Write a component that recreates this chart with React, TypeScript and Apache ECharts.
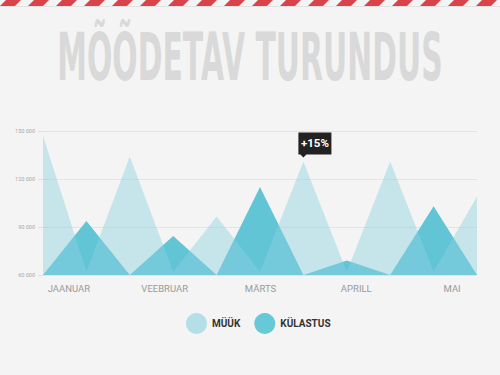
import React, { useEffect, useRef } from "react";
import * as echarts from "echarts";

const PERIODS = ["1", "2", "3", "4", "5", "6", "7", "8", "9", "10", "11"];
const MUUK = [147000, 62000, 134000, 62000, 96500, 62000, 131000, 62000, 131000, 62000, 109000];
const KULASTUS = [60000, 93800, 60000, 84400, 60000, 115000, 60000, 69000, 60000, 103000, 60000];
const MONTHS = ["JAANUAR", "VEEBRUAR", "MÄRTS", "APRILL", "MAI"];
const Y_TICKS = [60000, 90000, 120000, 150000];
const SERIES_NAMES = ["MÜÜK", "KÜLASTUS"];
const TITLE = "MÕÕDETAV TURUNDUS";
const HIGHLIGHT_INDEX = 6;
const HIGHLIGHT_LABEL = "+15%";

const FONT = "Roboto, 'Liberation Sans', sans-serif";

function fmt(v: number) {
  return String(v).replace(/\B(?=(\d{3})+(?!\d))/g, " ");
}

export default function App() {
  const ref = useRef<HTMLDivElement>(null);
  useEffect(() => {
    if (!ref.current) return;
    const chart = echarts.init(ref.current, null, { renderer: "svg" });

    const stripes: any[] = [];
    for (let i = -1; i < 20; i++) {
      const x0 = i * 28;
      stripes.push({
        type: "polygon",
        shape: { points: [[x0 + 6, 0], [x0 + 21, 0], [x0 + 15, 6], [x0, 6]] },
        style: { fill: "#d8434c" },
        silent: true,
      });
    }

    chart.setOption({
      animation: false,
      backgroundColor: "#f4f4f4",
      graphic: [
        { type: "rect", shape: { x: 0, y: 6, width: 500, height: 1 }, style: { fill: "#e2e2e2" }, silent: true },
        ...stripes,
        {
          type: "text",
          x: 250,
          y: 58,
          scaleX: 0.574,
          scaleY: 1.25,
          style: {
            text: TITLE,
            fill: "#d9d9d9",
            font: "bold 52px 'DejaVu Sans', sans-serif",
            textAlign: "center",
            textVerticalAlign: "middle",
          },
          silent: true,
        },
      ],
      legend: {
        left: 181,
        top: 308,
        icon: "circle",
        itemWidth: 21,
        itemHeight: 21,
        itemGap: 14,
        data: [
          { name: SERIES_NAMES[0], itemStyle: { color: "#b5dfe6" } },
          { name: SERIES_NAMES[1], itemStyle: { color: "#67c8d7" } },
        ],
        textStyle: { fontFamily: FONT, fontWeight: "bold", fontSize: 10, color: "#333" },
      },
      grid: [
        { left: 43, right: 23, top: 131, bottom: 100 },
        { left: 21, width: 490, top: 131, bottom: 100 },
      ],
      xAxis: [
        { type: "category", gridIndex: 0, data: PERIODS, boundaryGap: false, show: false },
        {
          type: "category",
          gridIndex: 1,
          data: MONTHS,
          boundaryGap: true,
          axisLine: { show: false },
          axisTick: { show: false },
          axisLabel: { color: "#9a9a9a", fontFamily: FONT, fontSize: 9.5, margin: 8 },
        },
      ],
      yAxis: [
        {
          type: "value",
          gridIndex: 0,
          min: Y_TICKS[0],
          max: Y_TICKS[Y_TICKS.length - 1],
          interval: Y_TICKS[1] - Y_TICKS[0],
          axisLine: { show: false },
          axisTick: { show: true, length: 5, lineStyle: { color: "#e0e0e0" } },
          axisLabel: { color: "#a8a8a8", fontFamily: FONT, fontSize: 5.5, margin: 8, formatter: (v: number) => fmt(v) },
          splitLine: { lineStyle: { color: "#e3e3e3", width: 1 } },
        },
        { type: "value", gridIndex: 1, show: false },
      ],
      series: [
        {
          name: SERIES_NAMES[0],
          type: "line",
          xAxisIndex: 0,
          yAxisIndex: 0,
          z: 3,
          data: MUUK,
          symbol: "none",
          lineStyle: { width: 0 },
          itemStyle: { color: "#b5dfe6" },
          areaStyle: { color: "rgba(140,210,222,0.63)", origin: "start" },
          markPoint: {
            symbol: "path://M0,0 H33 V22 H8 L5,25 L2,22 H0 Z",
            symbolSize: [33, 25],
            symbolOffset: [11.5, -16.5],
            itemStyle: { color: "#222" },
            label: {
              show: true,
              position: "inside",
              formatter: HIGHLIGHT_LABEL,
              color: "#fff",
              fontFamily: FONT,
              fontWeight: "bold",
              fontSize: 11.5,
              offset: [0, -1.5],
            },
            data: [{ coord: [PERIODS[HIGHLIGHT_INDEX], MUUK[HIGHLIGHT_INDEX]] }],
          },
        },
        {
          name: SERIES_NAMES[1],
          type: "line",
          xAxisIndex: 0,
          yAxisIndex: 0,
          z: 2,
          data: KULASTUS,
          symbol: "none",
          lineStyle: { width: 0 },
          itemStyle: { color: "#62c5d6" },
          areaStyle: { color: "#62c5d6", opacity: 1, origin: "start" },
        },
      ],
    });
    return () => chart.dispose();
  }, []);
  return <div ref={ref} style={{ position: "fixed", left: 0, top: 0, width: 500, height: 375 }} />;
}
